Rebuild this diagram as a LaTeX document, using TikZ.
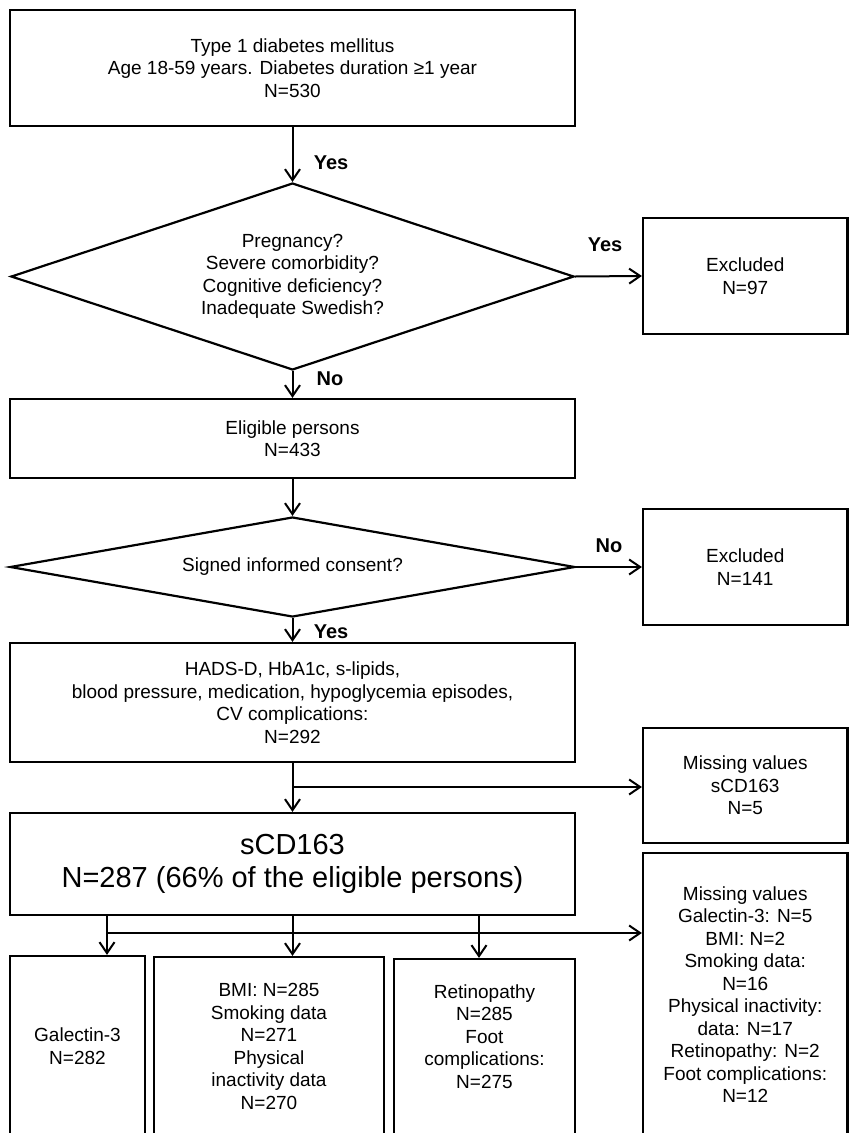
\documentclass[tikz,border=0pt]{standalone}
\usepackage{fontspec}
\setmainfont{Liberation Sans}
\usetikzlibrary{shapes.geometric,arrows.meta}
\begin{document}
\begin{tikzpicture}[x=1pt,y=-1pt,
  txt/.style={font=\fontsize{19}{22.5}\selectfont, align=center},
  box/.style={txt, draw, line width=2.2pt, inner sep=0pt, anchor=center},
  dia/.style={txt, draw, diamond, line width=2.2pt, inner sep=0pt},
  arr/.style={line width=2pt, -{Straight Barb[length=11pt,width=15pt]}},
  lbl/.style={font=\fontsize{20}{24}\selectfont\bfseries},
]
\useasboundingbox (0,0) rectangle (849,1133);
\clip (0,0) rectangle (849,1133);
\fill[white] (0,0) rectangle (849,1133);

% main column
\node[box, minimum width=565pt, minimum height=116pt] (top) at (292.5,68)
  {Type 1 diabetes mellitus\\Age 18-59 years. Diabetes duration ≥1 year\\N=530};
\node[dia, aspect=3, minimum width=563pt, minimum height=187pt] (d1) at (292.5,276.5)
  {Pregnancy?\\Severe comorbidity?\\Cognitive deficiency?\\Inadequate Swedish?};
\node[box, minimum width=565pt, minimum height=79pt] (elig) at (292.5,438.5)
  {Eligible persons\\N=433};
\node[dia, aspect=5.6, minimum width=565pt, minimum height=100pt] (d2) at (292.5,567)
  {Signed informed consent?};
\node[box, minimum width=565pt, minimum height=119pt] (hads) at (292.5,702.5)
  {HADS-D, HbA1c, s-lipids,\\blood pressure, medication, hypoglycemia episodes,\\CV complications:\\N=292};
\node[box, minimum width=565pt, minimum height=102pt, font=\fontsize{29}{33}\selectfont] (scd) at (292.5,864)
  {sCD163\\N=287 (66\% of the eligible persons)};

% right column
\node[box, minimum width=204.5pt, minimum height=116pt] (ex1) at (745.25,276)
  {Excluded\\N=97};
\node[box, minimum width=204.5pt, minimum height=116pt] (ex2) at (745.25,567)
  {Excluded\\N=141};
\node[box, minimum width=204.5pt, minimum height=115pt] (m1) at (745.25,785.5)
  {Missing values\\sCD163\\N=5};
\node[box, minimum width=204.5pt, minimum height=283pt] (m2) at (745.25,994.5)
  {Missing values\\Galectin-3: N=5\\BMI: N=2\\Smoking data:\\N=16\\Physical inactivity:\\data: N=17\\Retinopathy: N=2\\Foot complications:\\N=12};

% bottom row
\node[box, minimum width=135pt, minimum height=180pt] (gal) at (77.5,1046)
  {Galectin-3\\N=282};
\node[box, minimum width=230pt, minimum height=179pt] (bmi) at (269,1046.5)
  {BMI: N=285\\Smoking data\\N=271\\Physical\\inactivity data\\N=270};
\node[box, minimum width=181pt, minimum height=177pt] (ret) at (484.5,1047.5)
  {Retinopathy\\N=285\\Foot\\complications:\\N=275\\\mbox{}};

% labels
\node[lbl] (y1) at (331,163) {Yes};
\node[lbl] (y2) at (605,245) {Yes};
\node[lbl] (n1) at (330,379) {No};
\node[lbl] (n2) at (609,546) {No};
\node[lbl] (y3) at (331,632) {Yes};

% connectors
\draw[arr] (top.south) -- (d1.north);
\draw[arr] (d1.east) -- (ex1.west);
\draw[arr] (d1.south) -- (elig.north);
\draw[arr] (elig.south) -- (d2.north);
\draw[arr] (d2.east) -- (ex2.west);
\draw[arr] (d2.south) -- (hads.north);
\draw[arr] (hads.south) -- (scd.north);
\coordinate (b1) at (292.5,787);
\draw[arr] (b1) -- (b1 -| m1.west);
\coordinate (ga) at (107,933);
\coordinate (gb) at (292.5,933);
\coordinate (gc) at (479,933);
\draw[arr] (ga |- scd.south) -- (ga |- gal.north);
\draw[arr] (gb |- scd.south) -- (gb |- bmi.north);
\draw[arr] (gc |- scd.south) -- (gc |- ret.north);
\draw[arr] (ga) -- (ga -| m2.west);
\end{tikzpicture}
\end{document}
